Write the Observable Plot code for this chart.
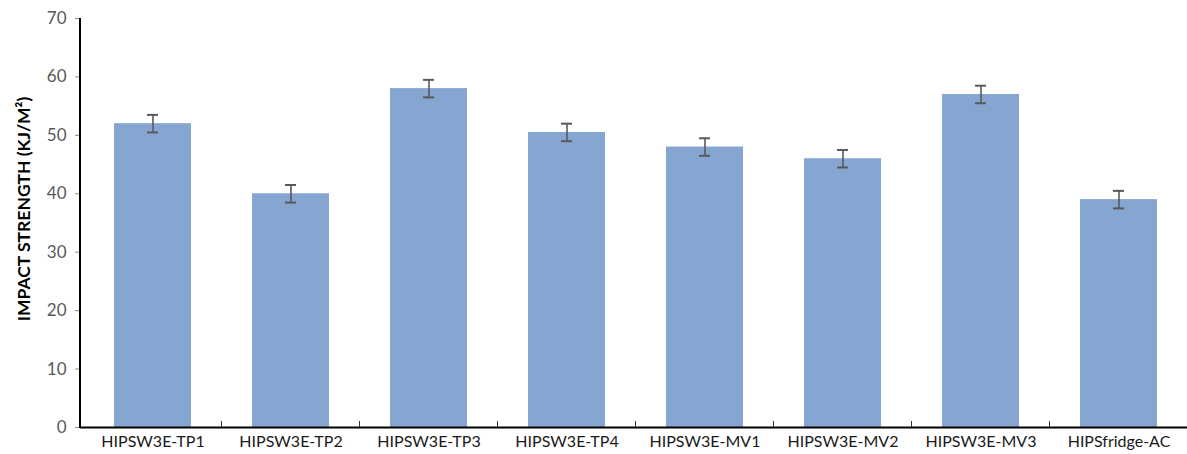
<!DOCTYPE html>
<html><head><meta charset="utf-8">
<script src="https://cdn.jsdelivr.net/npm/d3@7"></script>
<script src="https://cdn.jsdelivr.net/npm/@observablehq/plot@0.6"></script>
<style>body{margin:0;background:#fff}</style>
</head><body><div id="chart"></div>
<script>
const categories = ["HIPSW3E-TP1","HIPSW3E-TP2","HIPSW3E-TP3","HIPSW3E-TP4","HIPSW3E-MV1","HIPSW3E-MV2","HIPSW3E-MV3","HIPSfridge-AC"];
const values = [52, 40, 58, 50.5, 48, 46, 57, 39];
const errors = [1.5, 1.5, 1.5, 1.5, 1.5, 1.5, 1.5, 1.5];
const yTicks = [0, 10, 20, 30, 40, 50, 60, 70];
const yLabel = "IMPACT STRENGTH (KJ/M²)";

const data = categories.map((c, i) => ({category: c, value: values[i], err: errors[i]}));

const chart = Plot.plot({
  width: 1187, height: 454,
  marginLeft: 80, marginRight: 0, marginTop: 18, marginBottom: 27,
  style: {fontFamily: "Lato, 'Open Sans', sans-serif", fontSize: "17px", color: "#404040", background: "#fff"},
  x: {domain: categories, range: [80, 1191], paddingInner: 0.445, paddingOuter: 0.2225},
  y: {domain: [0, 70]},
  marks: [
    Plot.barY(data, {x: "category", y: "value", fill: "#84a6d1"}),
    Plot.ruleX(data, {x: "category", y1: d => d.value - d.err, y2: d => d.value + d.err, stroke: "#595959", strokeWidth: 1.6}),
    Plot.tickY(data, {x: "category", y: d => d.value + d.err, stroke: "#595959", strokeWidth: 2, insetLeft: 33, insetRight: 33}),
    Plot.tickY(data, {x: "category", y: d => d.value - d.err, stroke: "#595959", strokeWidth: 2, insetLeft: 33, insetRight: 33}),
    Plot.axisY({ticks: yTicks, tickSize: 5, tickPadding: 9, stroke: "#8c8c8c", fill: "#595959", fontSize: 17, label: null}),
    Plot.axisX({tickSize: 0, tickPadding: 8, fill: "#1a1a1a", fontSize: 16, label: null}),
    Plot.ruleY([0], {stroke: "#000", strokeWidth: 2}),
    Plot.text([yLabel], {frameAnchor: "left", textAnchor: "middle", lineAnchor: "middle", rotate: -90, dx: -56, dy: -14, fontWeight: "bold", fontSize: 17.5, fill: "#000"})
  ]
});
document.getElementById("chart").appendChild(chart);

// category separator ticks and left axis line
const xs = chart.scale("x"), ys = chart.scale("y");
const svg = d3.select(chart);
const y0 = ys.apply(0), yTop = ys.apply(70);
svg.append("line").attr("x1", 80).attr("x2", 80).attr("y1", yTop).attr("y2", y0 + 1)
  .attr("stroke", "#000").attr("stroke-width", 2);
categories.slice(0, -1).forEach(c => {
  const x = xs.apply(c) + xs.bandwidth + (xs.step - xs.bandwidth) / 2;
  svg.append("line").attr("x1", x).attr("x2", x).attr("y1", y0 - 6).attr("y2", y0)
    .attr("stroke", "#333").attr("stroke-width", 1);
});
</script>
</body></html>
